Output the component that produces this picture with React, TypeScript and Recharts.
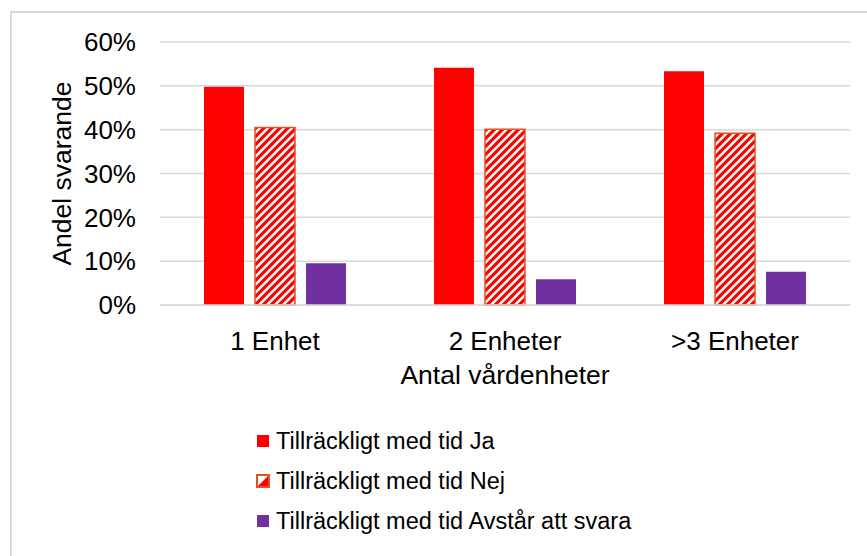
import { BarChart, Bar, XAxis, YAxis, CartesianGrid, Legend } from 'recharts';

const categories = ['1 Enhet', '2 Enheter', '>3 Enheter'];
const ja = [49.8, 54.1, 53.3];
const nej = [40.5, 40.1, 39.2];
const avstar = [9.5, 5.9, 7.6];
const yTicks = [0, 10, 20, 30, 40, 50, 60];
const seriesOrder = ['ja', 'nej', 'avstar'];

const data = categories.map((name, i) => ({
  name,
  ja: ja[i],
  nej: nej[i],
  avstar: avstar[i],
}));

const font = 'Arial, "Liberation Sans", sans-serif';

function LegendMarker({ kind, color }: { kind: string; color: string }) {
  if (kind === 'nej') {
    return (
      <svg width={14} height={14} style={{ marginRight: 6 }}>
        <rect x={1} y={1} width={12} height={12} fill="#fff" stroke="#E8501E" strokeWidth={2} />
        <polygon points="12,2 12,12 2,12" fill="#FF0000" />
      </svg>
    );
  }
  return (
    <svg width={14} height={14} style={{ marginRight: 6 }}>
      <rect x={1} y={1} width={12} height={12} fill={color} />
    </svg>
  );
}

function renderLegend(props: any) {
  const items = [...props.payload].sort(
    (a: any, b: any) => seriesOrder.indexOf(a.dataKey) - seriesOrder.indexOf(b.dataKey)
  );
  return (
    <div style={{ fontFamily: font, fontSize: 23.5, color: '#000' }}>
      {items.map((p: any) => (
        <div key={p.value} style={{ display: 'flex', alignItems: 'center', height: 40 }}>
          <LegendMarker kind={p.dataKey} color={p.color} />
          <span>{p.value}</span>
        </div>
      ))}
    </div>
  );
}

function YLabel(props: any) {
  const { viewBox } = props;
  const x = viewBox.x + 62;
  const y = viewBox.y + viewBox.height / 2;
  return (
    <text
      x={x}
      y={y}
      transform={`rotate(-90, ${x}, ${y})`}
      textAnchor="middle"
      dominantBaseline="central"
      fontFamily={font}
      fontSize={26.5}
      fill="#000"
    >
      Andel svarande
    </text>
  );
}

export default function App() {
  return (
    <div
      style={{
        position: 'absolute',
        left: 0,
        top: 0,
        width: 867,
        height: 556,
        overflow: 'hidden',
        background: '#fff',
      }}
    >
      <div
        style={{
          position: 'absolute',
          left: 10,
          top: 11,
          width: 880,
          height: 580,
          border: '2px solid #d9d9d9',
        }}
      />
      <BarChart
        width={867}
        height={556}
        data={data}
        margin={{ top: 42, right: 17, left: 0, bottom: 221 }}
        barSize={40}
        barGap={11}
        style={{ position: 'absolute', left: 0, top: 0 }}
      >
        <defs>
          <pattern id="hatch" patternUnits="userSpaceOnUse" width={8} height={8}>
            <rect width={8} height={8} fill="#fff" />
            <path d="M-2,2 l4,-4 M0,8 l8,-8 M6,10 l4,-4" stroke="#FF0000" strokeWidth={3.2} />
          </pattern>
        </defs>
        <CartesianGrid vertical={false} stroke="#d9d9d9" strokeWidth={1.5} />
        <XAxis
          dataKey="name"
          tickLine={false}
          axisLine={{ stroke: '#d9d9d9', strokeWidth: 1.5 }}
          tickMargin={21}
          tick={{ fontFamily: font, fontSize: 26, fill: '#000' }}
          label={{
            value: 'Antal vårdenheter',
            position: 'insideTop',
            offset: 60,
            fontFamily: font,
            fontSize: 26.5,
            fill: '#000',
          }}
        />
        <YAxis
          width={160}
          domain={[0, 60]}
          ticks={yTicks}
          interval={0}
          tickFormatter={(v: number) => `${v}%`}
          tickLine={false}
          axisLine={false}
          tickSize={0}
          tickMargin={24}
          tick={{ fontFamily: font, fontSize: 26, fill: '#000' }}
          label={<YLabel />}
        />
        <Legend
          layout="vertical"
          align="center"
          verticalAlign="middle"
          content={renderLegend}
          wrapperStyle={{ left: 256, top: 421, width: 'auto' }}
        />
        <Bar dataKey="ja" name="Tillräckligt med tid Ja" fill="#FF0000" isAnimationActive={false} />
        <Bar
          dataKey="nej"
          name="Tillräckligt med tid Nej"
          fill="url(#hatch)"
          stroke="#E8501E"
          strokeWidth={1.5}
          isAnimationActive={false}
        />
        <Bar dataKey="avstar" name="Tillräckligt med tid Avstår att svara" fill="#7030A0" isAnimationActive={false} />
      </BarChart>
    </div>
  );
}
